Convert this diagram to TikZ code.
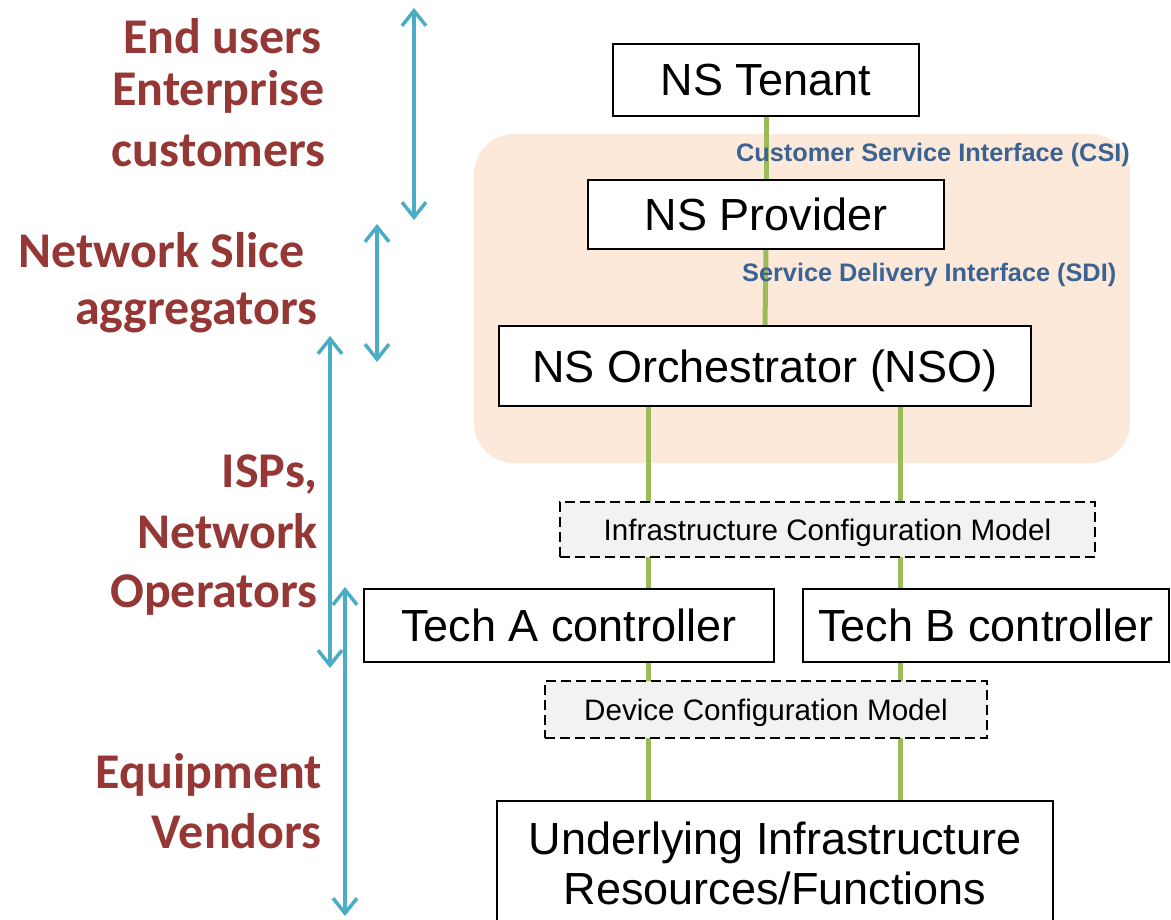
\documentclass[tikz,border=0pt]{standalone}
\usepackage{fontspec}
\setmainfont{Liberation Sans}
\newfontfamily\calfont{Carlito}
\usetikzlibrary{arrows.meta}
\pgfdeclarelayer{panel}
\pgfdeclarelayer{links}
\pgfsetlayers{panel,links,main}
\definecolor{peach}{HTML}{FDE9D9}
\definecolor{linkgreen}{HTML}{9BBB59}
\definecolor{skyblue}{HTML}{4BACC6}
\definecolor{labred}{HTML}{953735}
\definecolor{ifblue}{HTML}{3A6394}
\definecolor{modelgray}{HTML}{F2F2F2}
\tikzset{
  mainbox/.style={draw=black, fill=white, line width=1.5pt, inner sep=0pt,
    font=\fontsize{45}{50}\selectfont, text height=32pt, text depth=0pt},
  bigbox/.style={draw=black, fill=white, line width=1.5pt, inner sep=0pt,
    font=\fontsize{45}{50}\selectfont},
  modelbox/.style={draw=black, fill=modelgray, line width=1.8pt,
    dash pattern=on 10pt off 5pt, inner sep=0pt, font=\fontsize{29.6}{34}\selectfont,
    text height=21pt, text depth=0pt},
  link/.style={draw=linkgreen, line width=5pt},
  span/.style={draw=skyblue, line width=3.5pt,
    {Straight Barb[length=15pt,width=24pt,line width=3.5pt]}-{Straight Barb[length=15pt,width=24pt,line width=3.5pt]}},
  rolelabel/.style={anchor=base east, inner sep=0pt, text=labred,
    font=\calfont\bfseries\fontsize{50}{54}\selectfont},
  iflabel/.style={anchor=base west, inner sep=0pt, text=ifblue,
    font=\bfseries\fontsize{25.3}{28}\selectfont}
}
\begin{document}
\begin{tikzpicture}[x=1pt,y=-1pt]
\clip (0,0) rectangle (1171,920);
\begin{pgfonlayer}{panel}
\fill[white] (0,0) rectangle (1171,920);
\fill[peach] (474,134) [rounded corners=40pt] rectangle (1130,463);
\end{pgfonlayer}

% nodes
\node[mainbox, minimum width=306pt, minimum height=72pt] (ten) at (766,80) {NS Tenant};
\node[mainbox, minimum width=356pt, minimum height=69pt] (prov) at (766,214.5) {NS Provider};
\node[mainbox, minimum width=532pt, minimum height=80pt] (nso) at (765,366) {NS Orchestrator (NSO)};
\node[mainbox, minimum width=410pt, minimum height=73pt] (ta) at (569,625.5) {Tech A controller};
\node[mainbox, minimum width=366pt, minimum height=73pt] (tb) at (986,625.5) {Tech B controller};
\node[bigbox, minimum width=556pt, minimum height=125pt, align=center] (und) at (775,863.5)
  {Underlying Infrastructure\\Resources/Functions};
\node[modelbox, minimum width=535pt, minimum height=55pt] (icm) at (827.5,529.5) {Infrastructure Configuration Model};
\node[modelbox, minimum width=442pt, minimum height=57pt] (dcm) at (766,709.5) {Device Configuration Model};

% green connectors (behind boxes)
\begin{pgfonlayer}{links}
\path[link] (ten.south) -- (prov.north);
\path[link] (prov.south) -- (nso.north);
\path[link] (nso.south -| 648,0) -- (und.north -| 648,0);
\path[link] (nso.south -| 900,0) -- (und.north -| 900,0);
\end{pgfonlayer}

% interface labels
\node[iflabel] (csi) at (736,162) {Customer Service Interface (CSI)};
\node[iflabel] (sdi) at (742,282) {Service Delivery Interface (SDI)};

% blue span arrows
\coordinate (s1a) at (414,8);   \coordinate (s1b) at (414,220);
\coordinate (s2a) at (377,224); \coordinate (s2b) at (377,362);
\coordinate (s3a) at (330,336); \coordinate (s3b) at (330,668);
\coordinate (s4a) at (345,587); \coordinate (s4b) at (345,916);
\draw[span] (s1a) -- (s1b);
\draw[span] (s2a) -- (s2b);
\draw[span] (s3a) -- (s3b);
\draw[span] (s4a) -- (s4b);

% role labels
\node[rolelabel] (r1) at (322,54) {End users};
\node[rolelabel] (r2) at (325,106) {Enterprise};
\node[rolelabel] (r3) at (326,167) {customers};
\node[rolelabel] (r4) at (305,268) {Network Slice};
\node[rolelabel] (r5) at (318,325) {aggregators};
\node[rolelabel] (r6) at (318,487) {ISPs,};
\node[rolelabel] (r7) at (318,548) {Network};
\node[rolelabel] (r8) at (318,607) {Operators};
\node[rolelabel] (r9) at (322,788) {Equipment};
\node[rolelabel] (r10) at (322,848) {Vendors};
\end{tikzpicture}
\end{document}
